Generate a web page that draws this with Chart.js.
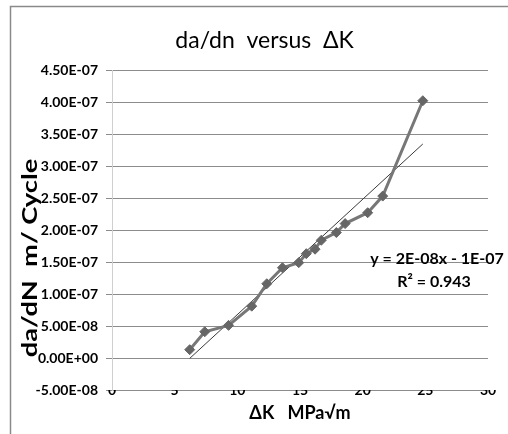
<!DOCTYPE html>
<html>
<head>
<meta charset="utf-8">
<script src="https://cdn.jsdelivr.net/npm/chart.js@4"></script>
<style>
  html, body { margin: 0; padding: 0; background: #fff; }
  #wrap { width: 508px; height: 434px; position: relative; }
</style>
</head>
<body>
<div id="wrap"><canvas id="myChart" width="508" height="434"></canvas></div>
<script>
// values
const deltaK = [6.2, 7.4, 9.3, 11.15, 12.35, 13.6, 14.9, 15.5, 16.2, 16.7, 17.9, 18.6, 20.4, 21.6, 24.8];
const dadn = [1.3e-8, 4.1e-8, 5.1e-8, 8.1e-8, 1.16e-7, 1.41e-7, 1.49e-7, 1.63e-7, 1.70e-7, 1.84e-7, 1.96e-7, 2.10e-7, 2.27e-7, 2.53e-7, 4.02e-7];
const xTicks = [0, 5, 10, 15, 20, 25, 30];
const yTicks = [-5e-8, 0, 5e-8, 1e-7, 1.5e-7, 2e-7, 2.5e-7, 3e-7, 3.5e-7, 4e-7, 4.5e-7];
const trendText = ['y = 2E-08x - 1E-07', 'R\u00B2 = 0.943'];

// linear least squares trend line, like Excel's
function linFit(xs, ys) {
    var n = xs.length, mx = 0, my = 0, sxy = 0, sxx = 0;
    for (var i = 0; i < n; i++) { mx += xs[i]; my += ys[i]; }
    mx /= n; my /= n;
    for (var i = 0; i < n; i++) {
        sxy += (xs[i] - mx) * (ys[i] - my);
        sxx += (xs[i] - mx) * (xs[i] - mx);
    }
    var m = sxy / sxx;
    return { m: m, b: my - m * mx };
}
var fit = linFit(deltaK, dadn);
var xMin = Math.min.apply(null, deltaK), xMax = Math.max.apply(null, deltaK);
var trend = [{ x: xMin, y: fit.m * xMin + fit.b }, { x: xMax, y: fit.m * xMax + fit.b }];

function excelExp(v) {
    if (Math.abs(v) < 1e-20) return '0.00E+00';
    var s = v.toExponential(2).toUpperCase();
    var parts = s.split('E');
    var e = parseInt(parts[1], 10);
    var sign = e < 0 ? '-' : '+';
    var ae = Math.abs(e);
    return parts[0] + 'E' + sign + (ae < 10 ? '0' + ae : ae);
}

var FONT = 'Lato, "Open Sans", sans-serif';

var frame = {
    id: 'frame',
    beforeDraw: function (chart) {
        var ctx = chart.ctx;
        ctx.save();
        ctx.strokeStyle = '#8a8a8a';
        ctx.lineWidth = 1.5;
        ctx.beginPath();
        ctx.moveTo(10.5, 434);
        ctx.lineTo(10.5, 6.5);
        ctx.lineTo(508, 6.5);
        ctx.stroke();
        ctx.restore();
    }
};

var extraText = {
    id: 'extraText',
    afterDraw: function (chart) {
        var ctx = chart.ctx;
        ctx.save();
        // y axis title, stretched along its length like the picture
        ctx.translate(30, 258);
        ctx.rotate(-Math.PI / 2);
        ctx.scale(1.3, 1);
        ctx.font = 'bold 21px ' + FONT;
        ctx.fillStyle = '#000';
        ctx.textAlign = 'center';
        ctx.textBaseline = 'middle';
        ctx.fillText('da/dN  m/ Cycle', 0, 0);
        ctx.restore();

        // trend line equation
        ctx.save();
        ctx.font = 'bold 16px ' + FONT;
        ctx.fillStyle = '#000';
        ctx.textAlign = 'center';
        ctx.textBaseline = 'middle';
        ctx.fillText(trendText[0], 437, 259);
        ctx.fillText(trendText[1], 434, 282);
        ctx.restore();
    }
};

var ctx = document.getElementById('myChart').getContext('2d');
var myChart = new Chart(ctx, {
    type: 'scatter',
    data: {
        datasets: [{
            label: 'da/dn',
            data: deltaK.map(function (x, i) { return { x: x, y: dadn[i] }; }),
            showLine: true,
            borderColor: '#777777',
            borderWidth: 3,
            pointStyle: 'rectRot',
            pointRadius: 5,
            pointBackgroundColor: '#666666',
            pointBorderColor: '#666666',
            pointBorderWidth: 1
        }, {
            label: 'Linear',
            data: trend,
            showLine: true,
            borderColor: '#3a3a3a',
            borderWidth: 1,
            pointRadius: 0
        }]
    },
    options: {
        responsive: false,
        animation: false,
        layout: { padding: { left: 0, right: 20, top: 0, bottom: 0 } },
        plugins: {
            legend: { display: false },
            tooltip: { enabled: false },
            title: {
                display: true,
                text: '\u00A0\u00A0\u00A0\u00A0\u00A0\u00A0\u00A0da/dn  versus  \u0394K',
                color: '#000',
                font: { family: FONT, size: 23, weight: 'normal', lineHeight: 1 },
                padding: { top: 29, bottom: 18 }
            }
        },
        scales: {
            x: {
                type: 'linear',
                min: 0,
                max: 30,
                afterBuildTicks: function (scale) { scale.ticks = xTicks.map(function (v) { return { value: v }; }); },
                afterFit: function (scale) { scale.height = 44; },
                grid: { display: false, drawTicks: false },
                border: { display: false },
                ticks: {
                    padding: -8,
                    color: '#000',
                    font: { family: FONT, size: 14, weight: 'bold' }
                },
                title: {
                    display: true,
                    text: '\u0394K   MPa\u221Am',
                    color: '#000',
                    font: { family: FONT, size: 18, weight: 'bold', lineHeight: 1.2 },
                    padding: { top: 0, bottom: 10 }
                }
            },
            y: {
                min: -5e-8,
                max: 4.5e-7,
                afterBuildTicks: function (scale) { scale.ticks = yTicks.map(function (v) { return { value: v }; }); },
                afterFit: function (scale) { scale.width = 112; },
                grid: { color: '#8c8c8c', lineWidth: 1, tickLength: 6 },
                border: { display: true, color: '#cfcfcf', width: 1 },
                ticks: {
                    padding: 8,
                    color: '#000',
                    font: { family: FONT, size: 14, weight: 'bold' },
                    callback: function (v) { return excelExp(v); }
                }
            }
        }
    },
    plugins: [frame, extraText]
});
</script>
</body>
</html>
